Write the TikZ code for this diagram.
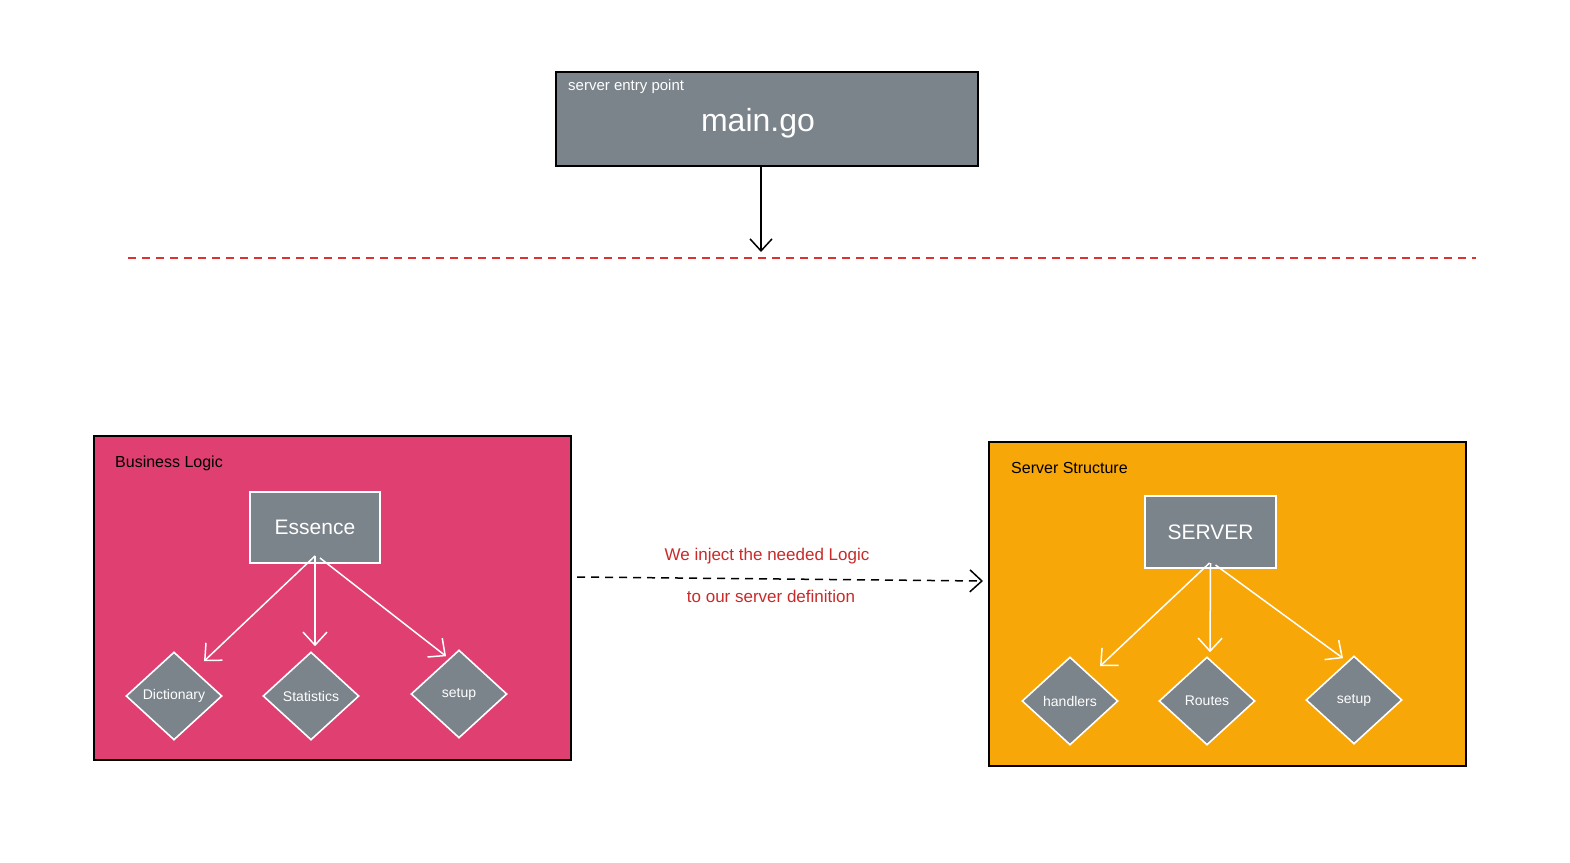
\documentclass[tikz,border=0pt]{standalone}
\usepackage{fontspec}
\setmainfont{Liberation Sans}
\usetikzlibrary{arrows.meta,shapes.geometric}
\definecolor{boxgray}{HTML}{7B838B}
\definecolor{logicpink}{HTML}{E03F72}
\definecolor{structorange}{HTML}{F8A708}
\definecolor{notered}{HTML}{C92A2A}
\definecolor{linered}{HTML}{E03131}
\tikzset{
  container/.style={draw=black, line width=1.6pt, anchor=north west, inner sep=0pt, outer sep=0pt},
  graybox/.style={draw=white, fill=boxgray, line width=1.6pt, anchor=north west, inner sep=0pt, outer sep=0pt},
  choice/.style={diamond, draw=white, fill=boxgray, line width=1.6pt, inner sep=0pt, aspect=1.09,
    minimum width=96pt, minimum height=88pt, text=white, font=\fontsize{14}{16}\selectfont},
  title/.style={anchor=west, inner sep=0pt, font=\fontsize{16}{18}\selectfont},
  whitearrow/.style={draw=white, line width=1.5pt, -{Straight Barb[length=13pt,width=24pt,line width=1.5pt]}},
  blackarrow/.style={draw=black, line width=1.5pt, -{Straight Barb[length=12pt,width=22pt,line width=1.5pt]}},
  note/.style={text=notered, inner sep=0pt, font=\fontsize{17}{19}\selectfont}
}
\begin{document}
\begin{tikzpicture}[x=1pt,y=-1pt]
\useasboundingbox[fill=white] (0,0) rectangle (1570,862);

% entry point
\node[graybox, draw=black, minimum width=422pt, minimum height=94pt] (main) at (556,72) {};
\node[title, text=white, font=\fontsize{15}{17}\selectfont] (entrylbl) at (568,87) {server entry point};
\node[text=white, inner sep=0pt, font=\fontsize{32}{36}\selectfont] (maingo) at (758,123) {main.go};
\coordinate (split) at (761,252);
\draw[blackarrow] ([xshift=-6pt]main.south) -- (split);

% boundary line
\coordinate (bndl) at (128,258);
\coordinate (bndr) at (1476,258);
\draw[linered, line width=1.4pt, dash pattern=on 8pt off 6pt] (bndl) -- (bndr);

% business logic
\node[container, fill=logicpink, minimum width=477pt, minimum height=324pt] (bl) at (94,436) {};
\node[title] (bltitle) at (115,463) {Business Logic};
\node[graybox, minimum width=130pt, minimum height=71pt] (ess) at (250,492) {};
\node[text=white, inner sep=0pt, font=\fontsize{21}{25}\selectfont] (esslbl) at (ess.center) {Essence};
\node[choice] (dict) at (174,696) {Dictionary};
\node[choice] (stat) at (311,696) {Statistics};
\node[choice] (bsetup) at (459,694) {setup};
\draw[whitearrow] ([yshift=7pt]ess.south) -- ([xshift=30pt,yshift=-10pt]dict.north);
\draw[whitearrow] ([yshift=7pt]ess.south) -- ([xshift=4pt,yshift=5pt]stat.north);
\draw[whitearrow] ([xshift=5pt,yshift=5pt]ess.south) -- ([xshift=-13pt,yshift=-7pt]bsetup.north);

% server structure
\node[container, fill=structorange, minimum width=477pt, minimum height=324pt] (ss) at (989,442) {};
\node[title] (sstitle) at (1011,468) {Server Structure};
\node[graybox, minimum width=131pt, minimum height=72pt] (srv) at (1145,496) {};
\node[text=white, inner sep=0pt, font=\fontsize{21}{25}\selectfont] (srvlbl) at (srv.center) {SERVER};
\node[choice] (hand) at (1070,701) {handlers};
\node[choice] (rout) at (1207,701) {Routes};
\node[choice] (ssetup) at (1354,700) {setup};
\draw[whitearrow] ([xshift=-1pt,yshift=5pt]srv.south) -- ([xshift=30pt,yshift=-10pt]hand.north);
\draw[whitearrow] ([yshift=5pt]srv.south) -- ([xshift=3pt,yshift=4pt]rout.north);
\draw[whitearrow] ([xshift=5pt,yshift=3pt]srv.south) -- ([xshift=-11pt,yshift=-3pt]ssetup.north);

% injection
\draw[blackarrow, dash pattern=on 8pt off 6pt] ([xshift=6pt,yshift=21pt]bl.east) -- ([xshift=-6pt,yshift=23pt]ss.west);
\node[note] (inj1) at (767,556) {We inject the needed Logic};
\node[note] (inj2) at (771,596) {to our server definition};
\end{tikzpicture}
\end{document}
